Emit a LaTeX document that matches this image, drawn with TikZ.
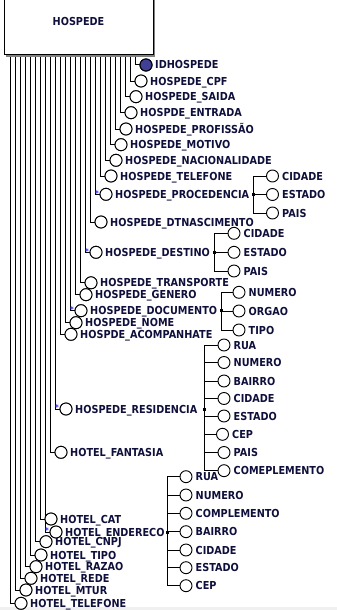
\documentclass[tikz,border=0pt]{standalone}
\usepackage{fontspec}
\usetikzlibrary{shadows}
\newfontfamily\lblfont{DejaVu Sans}[FakeStretch=0.88]
\definecolor{lblnavy}{RGB}{15,15,60}
\definecolor{keyblue}{RGB}{64,64,150}
\definecolor{astblue}{RGB}{40,40,255}
\definecolor{stripgray}{RGB}{240,240,240}
\tikzset{
  wire/.style={line width=1pt, black},
  attr/.style={circle, draw=black, line width=0.9pt, fill=white, minimum size=12pt, inner sep=0pt},
  keyattr/.style={attr, fill=keyblue},
  lbl/.style={anchor=west, inner sep=0pt, text height=8pt, text depth=0pt, text=lblnavy,
              font={\fontsize{11}{13}\lblfont\bfseries}},
  junct/.style={rectangle, fill=black, minimum size=3pt, inner sep=0pt},
  astk/.style={anchor=base, inner sep=0pt, text=astblue, font={\fontsize{8}{8}\lblfont\bfseries}},
  entitybox/.style={draw=black, line width=1pt, fill=white, minimum width=149pt, minimum height=68pt,
              inner sep=0pt, text=lblnavy, font={\fontsize{11}{13}\lblfont\bfseries},
              drop shadow={shadow xshift=2pt, shadow yshift=-2pt, fill=black!50, opacity=1}}
}
\begin{document}
\begin{tikzpicture}[x=1pt, y=-1pt]
\useasboundingbox (0,0) rectangle (337,610);
\fill[stripgray] (0,607) rectangle (337,610);

% entity
\node[entitybox] (hosp) at (78.5,21) {HOSPEDE};

% attributes: name / column / row / text
\def\leaves{id/25/65/IDHOSPEDE, cpf/24/81/HOSPEDE\_CPF, saida/23/96.7/HOSPEDE\_SAIDA,
  entrada/22/112.7/HOSPDE\_ENTRADA, prof/21/129/HOSPEDE\_PROFISSÃO, motivo/20/144.7/HOSPEDE\_MOTIVO,
  nac/19/160.3/HOSPEDE\_NACIONALIDADE, tel/18/176/HOSPEDE\_TELEFONE, proc/17/194.3/HOSPEDE\_PROCEDENCIA,
  dtn/16/222/HOSPEDE\_DTNASCIMENTO, dest/15/252.3/HOSPEDE\_DESTINO, transp/14/282.8/HOSPEDE\_TRANSPORTE,
  gen/13/294.7/HOSPEDE\_GENERO, doc/12/310.7/HOSPEDE\_DOCUMENTO, nome/11/322.7/HOSPEDE\_NOME,
  acomp/10/334.3/HOSPDE\_ACOMPANHATE, res/9/409/HOSPEDE\_RESIDENCIA, fant/8/452.3/HOTEL\_FANTASIA,
  hend/7/532/HOTEL\_ENDERECO, cat/6/519/HOTEL\_CAT, cnpj/5/541.7/HOTEL\_CNPJ, tipo/4/555/HOTEL\_TIPO,
  razao/3/566.7/HOTEL\_RAZAO, rede/2/578.3/HOTEL\_REDE, mtur/1/590/HOTEL\_MTUR,
  htel/0/603.3/HOTEL\_TELEFONE}

% circles and labels
\foreach \n/\i/\y/\t in \leaves {
  \pgfmathsetmacro\xx{10+5*\i}
  \coordinate (\n-top) at (\xx,57);
  \node[attr] (\n) at (\xx+11,\y) {};
  \node[lbl] (\n-lbl) at (\xx+20,\y) {\t};
}
% wires from the entity down to each attribute
\foreach \n/\i/\y/\t in \leaves {
  \draw[wire] (\n-top) |- (\n.west);
}
% circles redrawn above the wires
\foreach \n/\i/\y/\t in \leaves {
  \pgfmathsetmacro\xx{10+5*\i}
  \node[attr] at (\xx+11,\y) {};
}
\node[keyattr] (id) at (146,65) {};

% multivalued markers
\foreach \n in {proc,dest,doc,res,hend}
  \node[astk] (\n-ast) at ([xshift=-2.5pt,yshift=-1.7pt]\n.west) {*};

% HOSPEDE_PROCEDENCIA
\node[junct] (proc-j) at (253.5,194.3) {};
\foreach \k/\y/\t in {cid/176/CIDADE, est/194.5/ESTADO, pais/213/PAIS} {
  \node[attr] (proc-\k) at (272.5,\y) {};
  \node[lbl] (proc-\k-lbl) at (282,\y) {\t};
  \draw[wire] (proc-j.center) |- (proc-\k.west);
}

% HOSPEDE_DESTINO
\node[junct] (dest-j) at (214,252.3) {};
\foreach \k/\y/\t in {cid/233.3/CIDADE, est/252.3/ESTADO, pais/271/PAIS} {
  \node[attr] (dest-\k) at (234,\y) {};
  \node[lbl] (dest-\k-lbl) at (243.5,\y) {\t};
  \draw[wire] (dest-j.center) |- (dest-\k.west);
}

% HOSPEDE_DOCUMENTO
\node[junct] (doc-j) at (221,310.7) {};
\foreach \k/\y/\t in {num/292.3/NUMERO, org/311/ORGAO, tipo/330/TIPO} {
  \node[attr] (doc-\k) at (239,\y) {};
  \node[lbl] (doc-\k-lbl) at (248.5,\y) {\t};
  \draw[wire] (doc-j.center) |- (doc-\k.west);
}

% HOSPEDE_RESIDENCIA
\node[junct] (res-j) at (204,409) {};
\foreach \k/\cx/\y/\t in {rua/224/345/RUA, num/224/362.5/NUMERO, bai/224/381/BAIRRO,
    cid/224/398.5/CIDADE, est/224/416/ESTADO, cep/222.5/434.3/CEP, pais/224/452.5/PAIS,
    comp/224/470.7/COMEPLEMENTO} {
  \node[attr] (res-\k) at (\cx,\y) {};
  \node[lbl] (res-\k-lbl) at (\cx+9.5,\y) {\t};
  \draw[wire] (res-j.center) |- (res-\k.west);
}

% HOTEL_ENDERECO
\node[junct] (hend-j) at (167.5,532) {};
\foreach \k/\y/\t in {rua/476.7/RUA, num/495/NUMERO, comp/513.3/COMPLEMENTO, bai/531.7/BAIRRO,
    cid/550/CIDADE, est/567.7/ESTADO, cep/585.7/CEP} {
  \node[attr] (hend-\k) at (186,\y) {};
  \node[lbl] (hend-\k-lbl) at (195.5,\y) {\t};
  \draw[wire] (hend-j.center) |- (hend-\k.west);
}
\end{tikzpicture}
\end{document}
